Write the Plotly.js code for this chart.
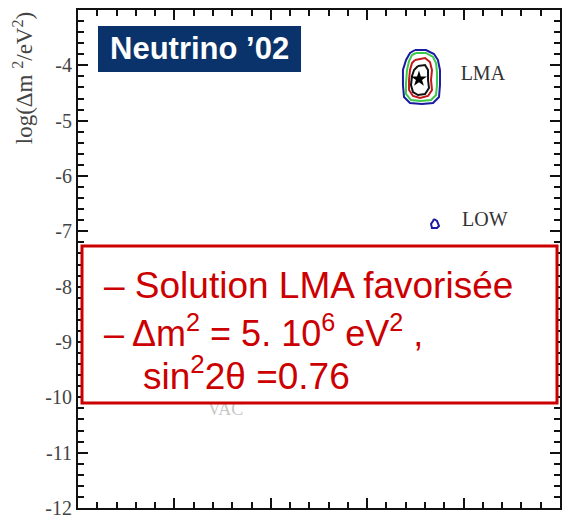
<!DOCTYPE html>
<html>
<head>
<meta charset="utf-8">
<script src="https://cdn.plot.ly/plotly-3.0.1.min.js"></script>
<style>html,body{margin:0;padding:0;background:#fff;}#chart{width:572px;height:519px;}</style>
</head>
<body>
<div id="chart"></div>
<script>
// Contour outlines (x = log(tan^2 theta), y = log(dm^2/eV^2))
const lmaBlueX = [-0.504,-0.390,-0.307,-0.266,-0.245,-0.245,-0.255,-0.317,-0.432,-0.556,-0.618,-0.629,-0.629,-0.597,-0.556,-0.504];
const lmaBlueY = [-3.723,-3.723,-3.795,-3.904,-4.084,-4.356,-4.572,-4.681,-4.699,-4.681,-4.572,-4.356,-4.084,-3.904,-3.777,-3.723];
const lmaGreenX = [-0.494,-0.390,-0.317,-0.286,-0.276,-0.276,-0.286,-0.338,-0.442,-0.546,-0.598,-0.598,-0.587,-0.566,-0.535,-0.494];
const lmaGreenY = [-3.777,-3.777,-3.849,-3.958,-4.121,-4.356,-4.536,-4.627,-4.645,-4.627,-4.518,-4.338,-4.084,-3.922,-3.813,-3.777];
const lmaRedX = [-0.504,-0.400,-0.349,-0.328,-0.338,-0.328,-0.369,-0.452,-0.525,-0.566,-0.566,-0.556,-0.535,-0.504];
const lmaRedY = [-3.904,-3.868,-3.940,-4.084,-4.265,-4.446,-4.554,-4.590,-4.554,-4.446,-4.265,-4.084,-3.958,-3.904];
const lmaBlackX = [-0.473,-0.400,-0.369,-0.369,-0.359,-0.400,-0.473,-0.525,-0.546,-0.535,-0.514,-0.473];
const lmaBlackY = [-4.012,-3.994,-4.084,-4.265,-4.410,-4.518,-4.536,-4.482,-4.356,-4.193,-4.084,-4.012];
const lowBlueX = [-0.307,-0.276,-0.255,-0.276,-0.328,-0.338,-0.317,-0.307];
const lowBlueY = [-6.777,-6.813,-6.904,-6.940,-6.940,-6.867,-6.813,-6.777];
const bestFitX = [-0.463];
const bestFitY = [-4.247];
const regionLabels = ["LMA", "LOW", "VAC"];
const regionLabelX = [0.2, 0.22, -2.47];
const regionLabelY = [-4.18, -6.82, -10.23];
const yTickVals = [-12,-11,-10,-9,-8,-7,-6,-5,-4];
const yTickText = ["-12","-11","-10","-9","-8","-7","-6","-5","-4"];
const xTickVals = [-4,-3,-2,-1,0,1];

const SERIF = 'Times New Roman';
const SANS = 'Liberation Sans';

function ring(x, y, color) {
  return {x: x, y: y, type: 'scatter', mode: 'lines', line: {color: color, width: 2}, hoverinfo: 'skip', showlegend: false};
}
const traces = [
  ring(lmaBlueX, lmaBlueY, '#1a1aa0'),
  ring(lmaGreenX, lmaGreenY, '#3cc84a'),
  ring(lmaRedX, lmaRedY, '#c01818'),
  ring(lmaBlackX, lmaBlackY, '#111111'),
  ring(lowBlueX, lowBlueY, '#1a1aa0'),
  {x: bestFitX, y: bestFitY, type: 'scatter', mode: 'markers', marker: {symbol: 'star', size: 12, color: '#000'}, showlegend: false},
  {x: regionLabelX.slice(0,2), y: regionLabelY.slice(0,2), text: regionLabels.slice(0,2), type: 'scatter', mode: 'text',
   textfont: {family: SERIF, size: 20, color: '#333'}, showlegend: false},
  {x: regionLabelX.slice(2), y: regionLabelY.slice(2), text: regionLabels.slice(2), type: 'scatter', mode: 'text',
   textfont: {family: SERIF, size: 18, color: '#c8c8c8'}, showlegend: false}
];

const axisCommon = {
  showline: true, linecolor: '#111', linewidth: 2, mirror: 'allticks',
  ticks: 'inside', ticklen: 10, tickwidth: 2, tickcolor: '#111',
  showgrid: false, zeroline: false
};

const layout = {
  width: 572, height: 519,
  margin: {l: 78, r: 12, t: 10, b: 11},
  paper_bgcolor: '#fff', plot_bgcolor: '#fff',
  showlegend: false,
  font: {family: SERIF, color: '#444'},
  xaxis: Object.assign({}, axisCommon, {
    range: [-4, 1], tickmode: 'array', tickvals: xTickVals, showticklabels: false,
    minor: {dtick: 0.2, ticks: 'inside', ticklen: 6, tickwidth: 2, tickcolor: '#111', showgrid: false}
  }),
  yaxis: Object.assign({}, axisCommon, {
    range: [-12, -3], tickmode: 'array', tickvals: yTickVals, ticktext: yTickText,
    tickfont: {family: SERIF, size: 20, color: '#444'},
    minor: {dtick: 0.2, ticks: 'inside', ticklen: 6, tickwidth: 2, tickcolor: '#111', showgrid: false}
  }),
  shapes: [
    {type: 'rect', xref: 'paper', yref: 'paper', x0: 0.0415, x1: 0.4627, y0: 0.8755, y1: 0.9679,
     fillcolor: '#0b336b', line: {width: 0}, layer: 'above'},
    {type: 'rect', xref: 'paper', yref: 'paper', x0: 0.0083, x1: 0.9938, y0: 0.211, y1: 0.526,
     fillcolor: '#fff', line: {color: '#cc0000', width: 3}, layer: 'above'}
  ],
  annotations: [
    {xref: 'paper', yref: 'paper', x: 0.2526, y: 0.9217, xanchor: 'center', yanchor: 'middle', showarrow: false,
     text: '<b>Neutrino ’02</b>', font: {family: SANS, size: 31, color: '#fff'}},
    {xref: 'paper', yref: 'paper', x: -0.113, y: 0.862, xanchor: 'center', yanchor: 'middle', showarrow: false, textangle: -90,
     text: 'log(Δm <sup>2</sup>/eV<sup>2</sup>)', font: {family: SERIF, size: 23, color: '#444'}},
    {xref: 'paper', yref: 'paper', x: 0.049, y: 0.4465, xanchor: 'left', yanchor: 'middle', showarrow: false,
     text: '– Solution LMA favorisée', font: {family: SANS, size: 37, color: '#cc0000'}},
    {xref: 'paper', yref: 'paper', x: 0.049, y: 0.356, xanchor: 'left', yanchor: 'middle', showarrow: false,
     text: '– Δm<sup>2</sup> = 5. 10<sup>6</sup> eV<sup>2</sup> ,', font: {family: SANS, size: 36, color: '#cc0000'}},
    {xref: 'paper', yref: 'paper', x: 0.13, y: 0.27, xanchor: 'left', yanchor: 'middle', showarrow: false,
     text: 'sin<sup>2</sup>2θ =0.76', font: {family: SANS, size: 37, color: '#cc0000'}}
  ]
};

Plotly.newPlot('chart', traces, layout, {displayModeBar: false, staticPlot: true});
</script>
</body>
</html>
